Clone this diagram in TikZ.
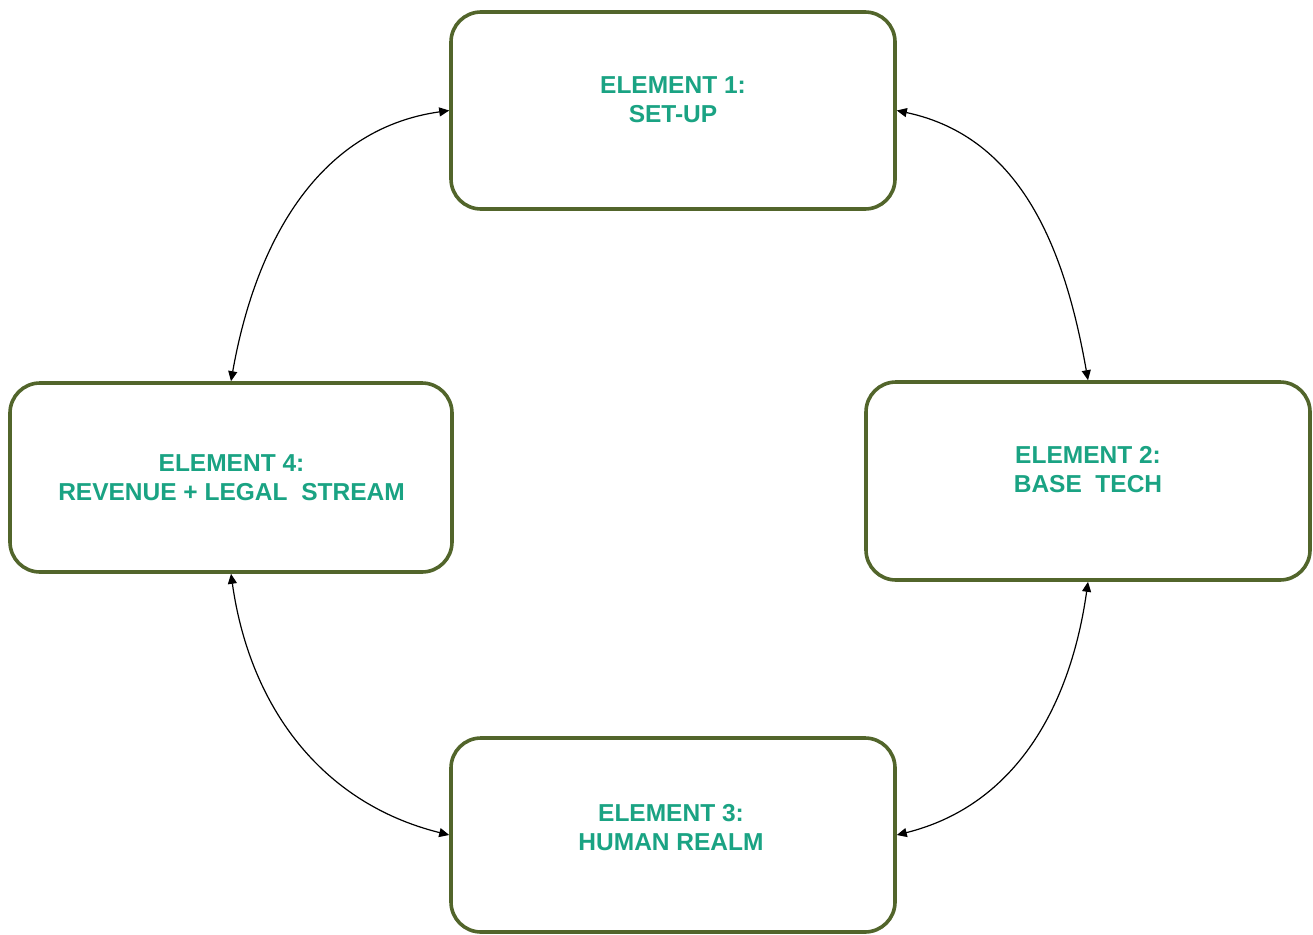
\documentclass[tikz,border=0pt]{standalone}
\usepackage{fontspec}
\setmainfont{Liberation Sans}
\usetikzlibrary{arrows.meta}
\definecolor{boxedge}{HTML}{52652B}
\definecolor{labelgreen}{HTML}{1AA383}
\tikzset{
  elementbox/.style={draw=boxedge, line width=3.6pt, rounded corners=30pt,
    fill=white, inner sep=0pt},
  elementtext/.style={text=labelgreen, font=\fontsize{24.5}{29}\selectfont\bfseries,
    align=center, inner sep=0pt},
  link/.style={draw=black, line width=1.2pt,
    {Triangle[length=10pt,width=9pt]}-{Triangle[length=10pt,width=9pt]}}
}
\begin{document}
\begin{tikzpicture}[x=1pt,y=-1pt]
  \useasboundingbox (0,0) rectangle (1313,934);
  % the four element boxes
  \node[elementbox, minimum width=444pt, minimum height=197pt] (e1) at (673,110.5) {};
  \node[elementbox, minimum width=444pt, minimum height=198pt] (e2) at (1088,481) {};
  \node[elementbox, minimum width=444pt, minimum height=194pt] (e3) at (673,835) {};
  \node[elementbox, minimum width=442pt, minimum height=189pt] (e4) at (231,477.5) {};
  % their labels
  \node[elementtext] (t1) at (673,100) {ELEMENT 1:\\SET-UP};
  \node[elementtext] (t2) at (1088,470) {ELEMENT 2:\\BASE\ \ TECH};
  \node[elementtext] (t3) at (671,828) {ELEMENT 3:\\HUMAN REALM};
  \node[elementtext] (t4) at (231.5,478) {ELEMENT 4:\\REVENUE + LEGAL\ \ STREAM};
  % curved two-way links around the cycle
  \draw[link] (e4.north) to[out=80, in=188] (e1.west);
  \draw[link] (e1.east) to[out=-12, in=100] (e2.north);
  \draw[link] (e2.south) to[out=-98, in=14] (e3.east);
  \draw[link] (e4.south) to[out=-82, in=166] (e3.west);
\end{tikzpicture}
\end{document}
